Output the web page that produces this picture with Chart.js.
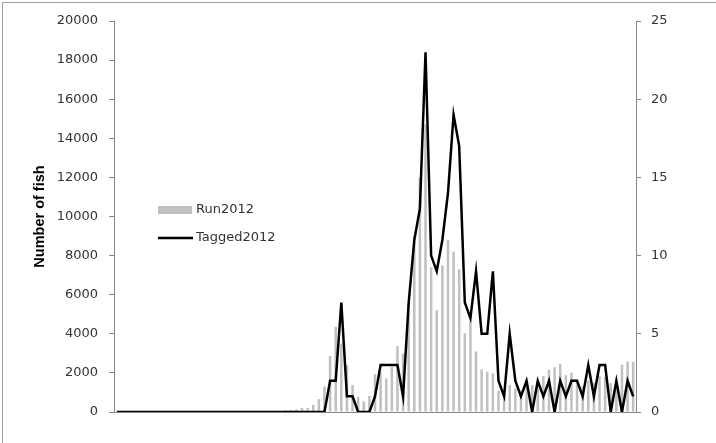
<!DOCTYPE html>
<html>
<head>
<meta charset="utf-8">
<script src="https://cdn.jsdelivr.net/npm/chart.js@4.4.1/dist/chart.umd.min.js"></script>
<style>
  body { margin: 0; background: #fff; }
  canvas { display: block; }
</style>
</head>
<body>
<canvas id="fishChart" width="716" height="443"></canvas>
<script>
// days of the run (no labels shown on the axis)
var days = [1,2,3,4,5,6,7,8,9,10,11,12,13,14,15,16,17,18,19,20,21,22,23,24,25,26,27,28,29,30,
  31,32,33,34,35,36,37,38,39,40,41,42,43,44,45,46,47,48,49,50,51,52,53,54,55,56,57,58,59,60,
  61,62,63,64,65,66,67,68,69,70,71,72,73,74,75,76,77,78,79,80,81,82,83,84,85,86,87,88,89,90,
  91,92,93];

// Run2012 - number of fish (left axis)
var run2012 = [0,0,0,0,0,0,0,0,0,0,0,0,0,0,0,0,0,0,0,0,0,0,0,0,0,0,0,0,0,0,
  90,100,140,200,200,360,660,1300,2860,4360,3500,2400,1380,780,540,820,1940,2000,1720,2300,
  3380,2990,5500,9000,12000,14700,7400,5200,7500,8800,8200,7300,4030,4650,3100,2180,2060,1980,1090,900,
  1380,1200,1100,1300,1380,1590,1840,2170,2290,2460,1880,2010,1550,1330,1600,1500,1840,1800,1480,1400,
  2420,2590,2570];

// Tagged2012 - tagged fish (right axis)
var tagged2012 = [0,0,0,0,0,0,0,0,0,0,0,0,0,0,0,0,0,0,0,0,0,0,0,0,0,0,0,0,0,0,
  0,0,0,0,0,0,0,0,2,2,7,1,1,0,0,0,1,3,3,3,
  3,1,7,11,13,23,10,9,11,14,19,17,7,6,9,5,5,9,2,1,
  5,2,1,2,0,2,1,2,0,2,1,2,2,1,3,1,3,3,0,2,
  0,2,1];

var leftTicks = [0, 2000, 4000, 6000, 8000, 10000, 12000, 14000, 16000, 18000, 20000];
var rightTicks = [0, 5, 10, 15, 20, 25];

var axisGrey = '#868686';
var textColor = '#333333';
var tickFont = { family: 'DejaVu Sans', size: 13 };

// frame round the whole picture
var framePlugin = {
  id: 'frame',
  beforeDraw: function (chart) {
    var ctx = chart.ctx;
    ctx.save();
    ctx.fillStyle = '#fff';
    ctx.fillRect(0, 0, chart.width, chart.height);
    ctx.strokeStyle = '#a0a0a0';
    ctx.lineWidth = 1;
    ctx.strokeRect(2.5, 2.5, chart.width + 10, chart.height + 10);
    ctx.restore();
  }
};

// legend sits inside the plot, like the excel one
var innerLegend = {
  id: 'innerLegend',
  afterDraw: function (chart) {
    var ctx = chart.ctx;
    var ds = chart.data.datasets;
    ctx.save();
    ctx.font = '13px "DejaVu Sans"';
    ctx.textBaseline = 'middle';
    // bar entry
    ctx.fillStyle = ds[0].backgroundColor;
    ctx.fillRect(158, 206, 34, 8);
    ctx.fillStyle = textColor;
    ctx.fillText(ds[0].label, 196, 210);
    // line entry
    ctx.strokeStyle = ds[1].borderColor;
    ctx.lineWidth = 2.5;
    ctx.beginPath();
    ctx.moveTo(158, 238);
    ctx.lineTo(193, 238);
    ctx.stroke();
    ctx.fillText(ds[1].label, 196, 238);
    ctx.restore();
  }
};

function plainTick(value) {
  return String(value);
}

var ctx = document.getElementById('fishChart').getContext('2d');
var fishChart = new Chart(ctx, {
  data: {
    labels: days,
    datasets: [
      {
        type: 'bar',
        label: 'Run2012',
        data: run2012,
        backgroundColor: '#c0c0c0',
        borderWidth: 0,
        barPercentage: 0.45,
        categoryPercentage: 1,
        yAxisID: 'y',
        order: 2
      },
      {
        type: 'line',
        label: 'Tagged2012',
        data: tagged2012,
        borderColor: '#000000',
        borderWidth: 2.5,
        pointRadius: 0,
        tension: 0,
        fill: false,
        yAxisID: 'y2',
        order: 1
      }
    ]
  },
  options: {
    responsive: false,
    animation: false,
    layout: { padding: { left: 0, right: 0, top: 21, bottom: 31 } },
    plugins: {
      legend: { display: false },
      tooltip: { enabled: false }
    },
    scales: {
      x: {
        offset: true,
        ticks: { display: false },
        grid: { display: false },
        border: { display: true, color: axisGrey, width: 1 },
        afterFit: function (scale) { scale.height = 0; }
      },
      y: {
        position: 'left',
        min: 0,
        max: 20000,
        afterBuildTicks: function (scale) {
          scale.ticks = leftTicks.map(function (v) { return { value: v }; });
        },
        ticks: { color: textColor, font: tickFont, padding: 11, callback: plainTick },
        grid: { drawOnChartArea: false, drawTicks: true, tickLength: 5, color: axisGrey },
        border: { display: true, color: axisGrey, width: 1 },
        title: {
          display: true,
          text: 'Number of fish',
          color: '#000',
          font: { family: 'Liberation Sans', size: 14.5, weight: 'bold' },
          padding: { top: 31, bottom: 0 }
        },
        afterFit: function (scale) { scale.width = 114; }
      },
      y2: {
        position: 'right',
        min: 0,
        max: 25,
        afterBuildTicks: function (scale) {
          scale.ticks = rightTicks.map(function (v) { return { value: v }; });
        },
        ticks: { color: textColor, font: tickFont, padding: 10, callback: plainTick },
        grid: { drawOnChartArea: false, drawTicks: true, tickLength: 5, color: axisGrey },
        border: { display: true, color: axisGrey, width: 1 },
        afterFit: function (scale) { scale.width = 80; }
      }
    }
  },
  plugins: [framePlugin, innerLegend]
});
</script>
</body>
</html>
